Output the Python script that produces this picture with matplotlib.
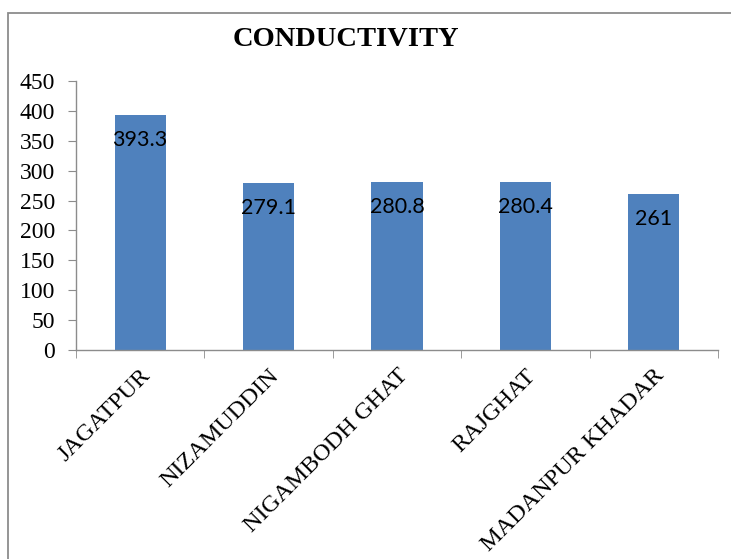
import matplotlib
matplotlib.use("Agg")
import matplotlib.pyplot as plt
from matplotlib.patches import Rectangle
import numpy as np

sites = ["JAGATPUR", "NIZAMUDDIN", "NIGAMBODH GHAT", "RAJGHAT", "MADANPUR KHADAR"]
conductivity = [393.3, 279.1, 280.8, 280.4, 261]
value_labels = ["393.3", "279.1", "280.8", "280.4", "261"]
y_ticks = [0, 50, 100, 150, 200, 250, 300, 350, 400, 450]

W, H = 731, 559
fig = plt.figure(figsize=(W / 100, H / 100), dpi=100)

# outer chart frame
fig.patches.append(Rectangle((8 / W, -0.1), 1.2, 1 - 13 / H + 0.1,
                             transform=fig.transFigure, fill=False,
                             edgecolor="#8c8c8c", linewidth=1.3))

ax = fig.add_axes([76 / W, 1 - 350 / H, (718 - 76) / W, (350 - 81) / H])
x = np.arange(len(sites))
ax.bar(x, conductivity, width=0.4, color="#4F81BD")

ax.set_xlim(-0.5, len(sites) - 0.5)
ax.set_ylim(0, 450)
ax.set_yticks(y_ticks)
ax.set_yticklabels([str(v) for v in y_ticks], fontfamily="Liberation Serif", fontsize=17)
ax.set_xticks(x)
ax.set_xticklabels(sites, rotation=45, ha="right", rotation_mode="anchor",
                   fontfamily="Liberation Serif", fontsize=17.5)
ax.tick_params(axis="x", which="major", length=0, pad=11)
ax.set_xticks(np.arange(-0.5, len(sites), 1.0), minor=True)
ax.tick_params(axis="x", which="minor", length=6, color="#8c8c8c", direction="out")
ax.tick_params(axis="y", length=6, color="#8c8c8c", direction="out", pad=9)

for s in ["top", "right"]:
    ax.spines[s].set_visible(False)
for s in ["left", "bottom"]:
    ax.spines[s].set_color("#8c8c8c")
    ax.spines[s].set_linewidth(1.0)

for xi, v, lab in zip(x, conductivity, value_labels):
    ax.annotate(lab, (xi, v), xytext=(0, -25), textcoords="offset pixels",
                ha="center", va="center", fontsize=15.5, fontfamily="Lato")

fig.text(346 / W, 1 - 40 / H, "CONDUCTIVITY", ha="center", va="center",
         fontfamily="Liberation Serif", fontweight="bold", fontsize=20.5)

fig.savefig("out.png", dpi=100, facecolor="white")
